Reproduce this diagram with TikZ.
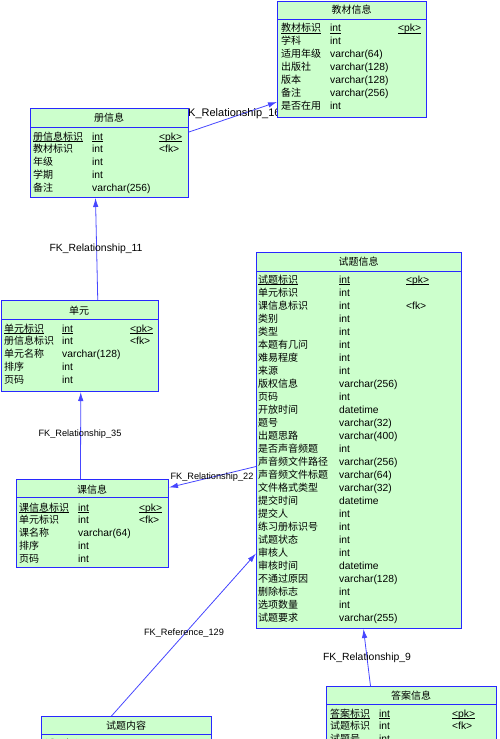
\documentclass[tikz,border=0pt]{standalone}
\usepackage{fontspec}
\setmainfont{Liberation Sans}
\newfontfamily\cjk{Noto Sans CJK SC}
\usetikzlibrary{arrows.meta,backgrounds}
\definecolor{ergreen}{RGB}{204,255,204}
\definecolor{erblue}{RGB}{40,40,255}
\definecolor{fkblue}{RGB}{70,70,255}
\newcommand{\namefont}{\fontsize{10}{12}\cjk}
\newcommand{\typefont}{\fontsize{10.3}{12}\selectfont}
\newcommand{\pkul}[1]{\underline{\smash{#1}}}

\begin{document}
\begin{tikzpicture}[x=1pt,y=-1pt,
  tbl/.style={draw=erblue,fill=ergreen,line width=1pt,anchor=north west,inner sep=0pt},
  ttl/.style={anchor=base,inner sep=0pt,font=\namefont},
  nm/.style={anchor=base west,inner sep=0pt,font=\namefont},
  ty/.style={anchor=base west,inner sep=0pt,font=\typefont},
  sepl/.style={draw=erblue,line width=1pt},
  fk/.style={draw=fkblue,line width=0.8pt,-{Latex[length=9pt,width=5.5pt]}},
  lbl/.style={inner sep=0pt,font=\fontsize{10.4}{12}\selectfont}]

\useasboundingbox (0,0) rectangle (500,739);
\clip (0,0) rectangle (500,739);

% 教材信息
\node[tbl,minimum width=149pt,minimum height=116pt] (jc) at (277,0.5) {};
\node[ttl] (jc-t) at (351.5,13.5) {教材信息};
\draw[sepl] (277,19) -- (426,19);
\foreach \n/\t/\k [count=\i from 0] in {{\pkul{教材标识}}/{\pkul{int}}/{\pkul{<pk>}},
  学科/int/{}, 适用年级/varchar(64)/{}, 出版社/varchar(128)/{}, 版本/varchar(128)/{},
  备注/varchar(256)/{}, 是否在用/int/{}}{
  \node[nm] (jc-n\i) at (281,31.5+13*\i) {\n};
  \node[ty] (jc-y\i) at (330,31.5+13*\i) {\t};
  \node[ty] (jc-k\i) at (398,31.5+13*\i) {\k};
}

% 册信息
\node[tbl,minimum width=158pt,minimum height=89pt] (ce) at (30,108) {};
\node[ttl] (ce-t) at (109,121.5) {册信息};
\draw[sepl] (30,127.5) -- (188,127.5);
\foreach \n/\t/\k [count=\i from 0] in {{\pkul{册信息标识}}/{\pkul{int}}/{\pkul{<pk>}},
  教材标识/int/<fk>, 年级/int/{}, 学期/int/{}, 备注/varchar(256)/{}}{
  \node[nm] (ce-n\i) at (33,140+12.8*\i) {\n};
  \node[ty] (ce-y\i) at (92,140+12.8*\i) {\t};
  \node[ty] (ce-k\i) at (159,140+12.8*\i) {\k};
}

% 单元
\node[tbl,minimum width=157.5pt,minimum height=91pt] (dy) at (0.5,300) {};
\node[ttl] (dy-t) at (79,314) {单元};
\draw[sepl] (0.5,319) -- (158,319);
\foreach \n/\t/\k [count=\i from 0] in {{\pkul{单元标识}}/{\pkul{int}}/{\pkul{<pk>}},
  册信息标识/int/<fk>, 单元名称/varchar(128)/{}, 排序/int/{}, 页码/int/{}}{
  \node[nm] (dy-n\i) at (4,332+12.9*\i) {\n};
  \node[ty] (dy-y\i) at (62,332+12.9*\i) {\t};
  \node[ty] (dy-k\i) at (130,332+12.9*\i) {\k};
}

% 课信息
\node[tbl,minimum width=152pt,minimum height=88pt] (kx) at (16,479) {};
\node[ttl] (kx-t) at (92,493) {课信息};
\draw[sepl] (16,497.5) -- (168,497.5);
\foreach \n/\t/\k [count=\i from 0] in {{\pkul{课信息标识}}/{\pkul{int}}/{\pkul{<pk>}},
  单元标识/int/<fk>, 课名称/varchar(64)/{}, 排序/int/{}, 页码/int/{}}{
  \node[nm] (kx-n\i) at (19,511+12.8*\i) {\n};
  \node[ty] (kx-y\i) at (78,511+12.8*\i) {\t};
  \node[ty] (kx-k\i) at (139,511+12.8*\i) {\k};
}

% 试题信息
\node[tbl,minimum width=205pt,minimum height=376pt] (st) at (256,252) {};
\node[ttl] (st-t) at (358.5,265) {试题信息};
\draw[sepl] (256,271) -- (461,271);
\foreach \n/\t/\k [count=\i from 0] in {{\pkul{试题标识}}/{\pkul{int}}/{\pkul{<pk>}},
  单元标识/int/{}, 课信息标识/int/<fk>, 类别/int/{}, 类型/int/{}, 本题有几问/int/{},
  难易程度/int/{}, 来源/int/{}, 版权信息/varchar(256)/{}, 页码/int/{}, 开放时间/datetime/{},
  题号/varchar(32)/{}, 出题思路/varchar(400)/{}, 是否声音频题/int/{},
  声音频文件路径/varchar(256)/{}, 声音频文件标题/varchar(64)/{}, 文件格式类型/varchar(32)/{},
  提交时间/datetime/{}, 提交人/int/{}, 练习册标识号/int/{}, 试题状态/int/{}, 审核人/int/{},
  审核时间/datetime/{}, 不通过原因/varchar(128)/{}, 删除标志/int/{}, 选项数量/int/{},
  试题要求/varchar(255)/{}}{
  \node[nm] (st-n\i) at (258,283+13*\i) {\n};
  \node[ty] (st-y\i) at (339,283+13*\i) {\t};
  \node[ty] (st-k\i) at (406,283+13*\i) {\k};
}

% 答案信息
\node[tbl,minimum width=170pt,minimum height=80pt] (da) at (326,686) {};
\node[ttl] (da-t) at (411,699) {答案信息};
\draw[sepl] (326,704) -- (496,704);
\foreach \n/\t/\k [count=\i from 0] in {{\pkul{答案标识}}/{\pkul{int}}/{\pkul{<pk>}},
  试题标识/int/<fk>, 试题号/int/{}}{
  \node[nm] (da-n\i) at (330,717+12.5*\i) {\n};
  \node[ty] (da-y\i) at (379,717+12.5*\i) {\t};
  \node[ty] (da-k\i) at (452,717+12.5*\i) {\k};
}

% 试题内容
\node[tbl,minimum width=170pt,minimum height=60pt] (nr) at (41,716) {};
\node[ttl] (nr-t) at (126,729) {试题内容};
\draw[sepl] (41,734) -- (211,734);
\node[nm] (nr-n0) at (45,747) {试题标识};

% references
\begin{scope}[on background layer]
\draw[fk] ([yshift=-24pt]ce.north east) -- ([yshift=15.5pt]jc.south west);
\node[lbl,font=\fontsize{11}{13}\selectfont] (l16) at (231,114) {FK\_Relationship\_16};
\draw[fk] ([xshift=18pt]dy.north) -- ([xshift=-14pt]ce.south);
\node[lbl] (l11) at (96,249) {FK\_Relationship\_11};
\draw[fk] ([xshift=-12pt]kx.north) -- ([xshift=1pt]dy.south);
\node[lbl,font=\fontsize{9.2}{11}\selectfont] (l35) at (80,434) {FK\_Relationship\_35};
\draw[fk] ([yshift=-26pt]st.west) -- ([yshift=36pt]kx.east);
\node[lbl,font=\fontsize{9.2}{11}\selectfont] (l22) at (212,477) {FK\_Relationship\_22};
\draw[fk] ([xshift=-15pt]nr.north) -- ([yshift=-113pt]st.west);
\node[lbl,font=\fontsize{9.2}{11}\selectfont] (l129) at (184,633) {FK\_Reference\_129};
\draw[fk] ([xshift=-41pt]da.north) -- ([xshift=4.5pt]st.south);
\node[lbl] (l9) at (367,658) {FK\_Relationship\_9};
\end{scope}

\end{tikzpicture}
\end{document}
